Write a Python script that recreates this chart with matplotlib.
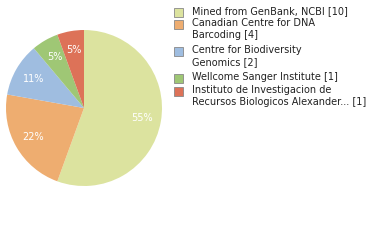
import matplotlib
matplotlib.use('Agg')
import matplotlib.pyplot as plt
from matplotlib.patches import Rectangle

# data
labels = ['Mined from GenBank, NCBI [10]',
          'Canadian Centre for DNA\nBarcoding [4]',
          'Centre for Biodiversity\nGenomics [2]',
          'Wellcome Sanger Institute [1]',
          'Instituto de Investigacion de\nRecursos Biologicos Alexander... [1]']
counts = [10, 4, 2, 1, 1]
colors = ['#dce39f', '#eead70', '#9fbde0', '#9fc775', '#dd7258']

fig = plt.figure(figsize=(3.8, 2.4), dpi=100)
fig.patch.set_facecolor('white')

ax = fig.add_axes([6/380, 54/240, 156/380, 156/240])
wedges, texts, autotexts = ax.pie(
    counts, colors=colors, startangle=90, counterclock=False,
    autopct=lambda p: '%d%%' % int(p), pctdistance=0.75,
    wedgeprops=dict(linewidth=0),
    textprops=dict(color='white', fontsize=7))
ax.set_xlim(-1, 1)
ax.set_ylim(-1, 1)
ax.set_aspect('equal')
ax.axis('off')

# legend, drawn by hand to match the spacing
y_first = [11, 23, 50, 77, 90]
for lab, col, y in zip(labels, colors, y_first):
    fig.patches.append(Rectangle((174 / 380, 1 - (y + 6) / 240), 9 / 380, 9 / 240,
                                 transform=fig.transFigure, facecolor=col,
                                 edgecolor='#888888', linewidth=0.6))
    for k, line in enumerate(lab.split('\n')):
        fig.text(192 / 380, 1 - (y + 12 * k) / 240, line, fontsize=7,
                 color='#222222', va='center', ha='left')

fig.savefig('out.png', dpi=100)
